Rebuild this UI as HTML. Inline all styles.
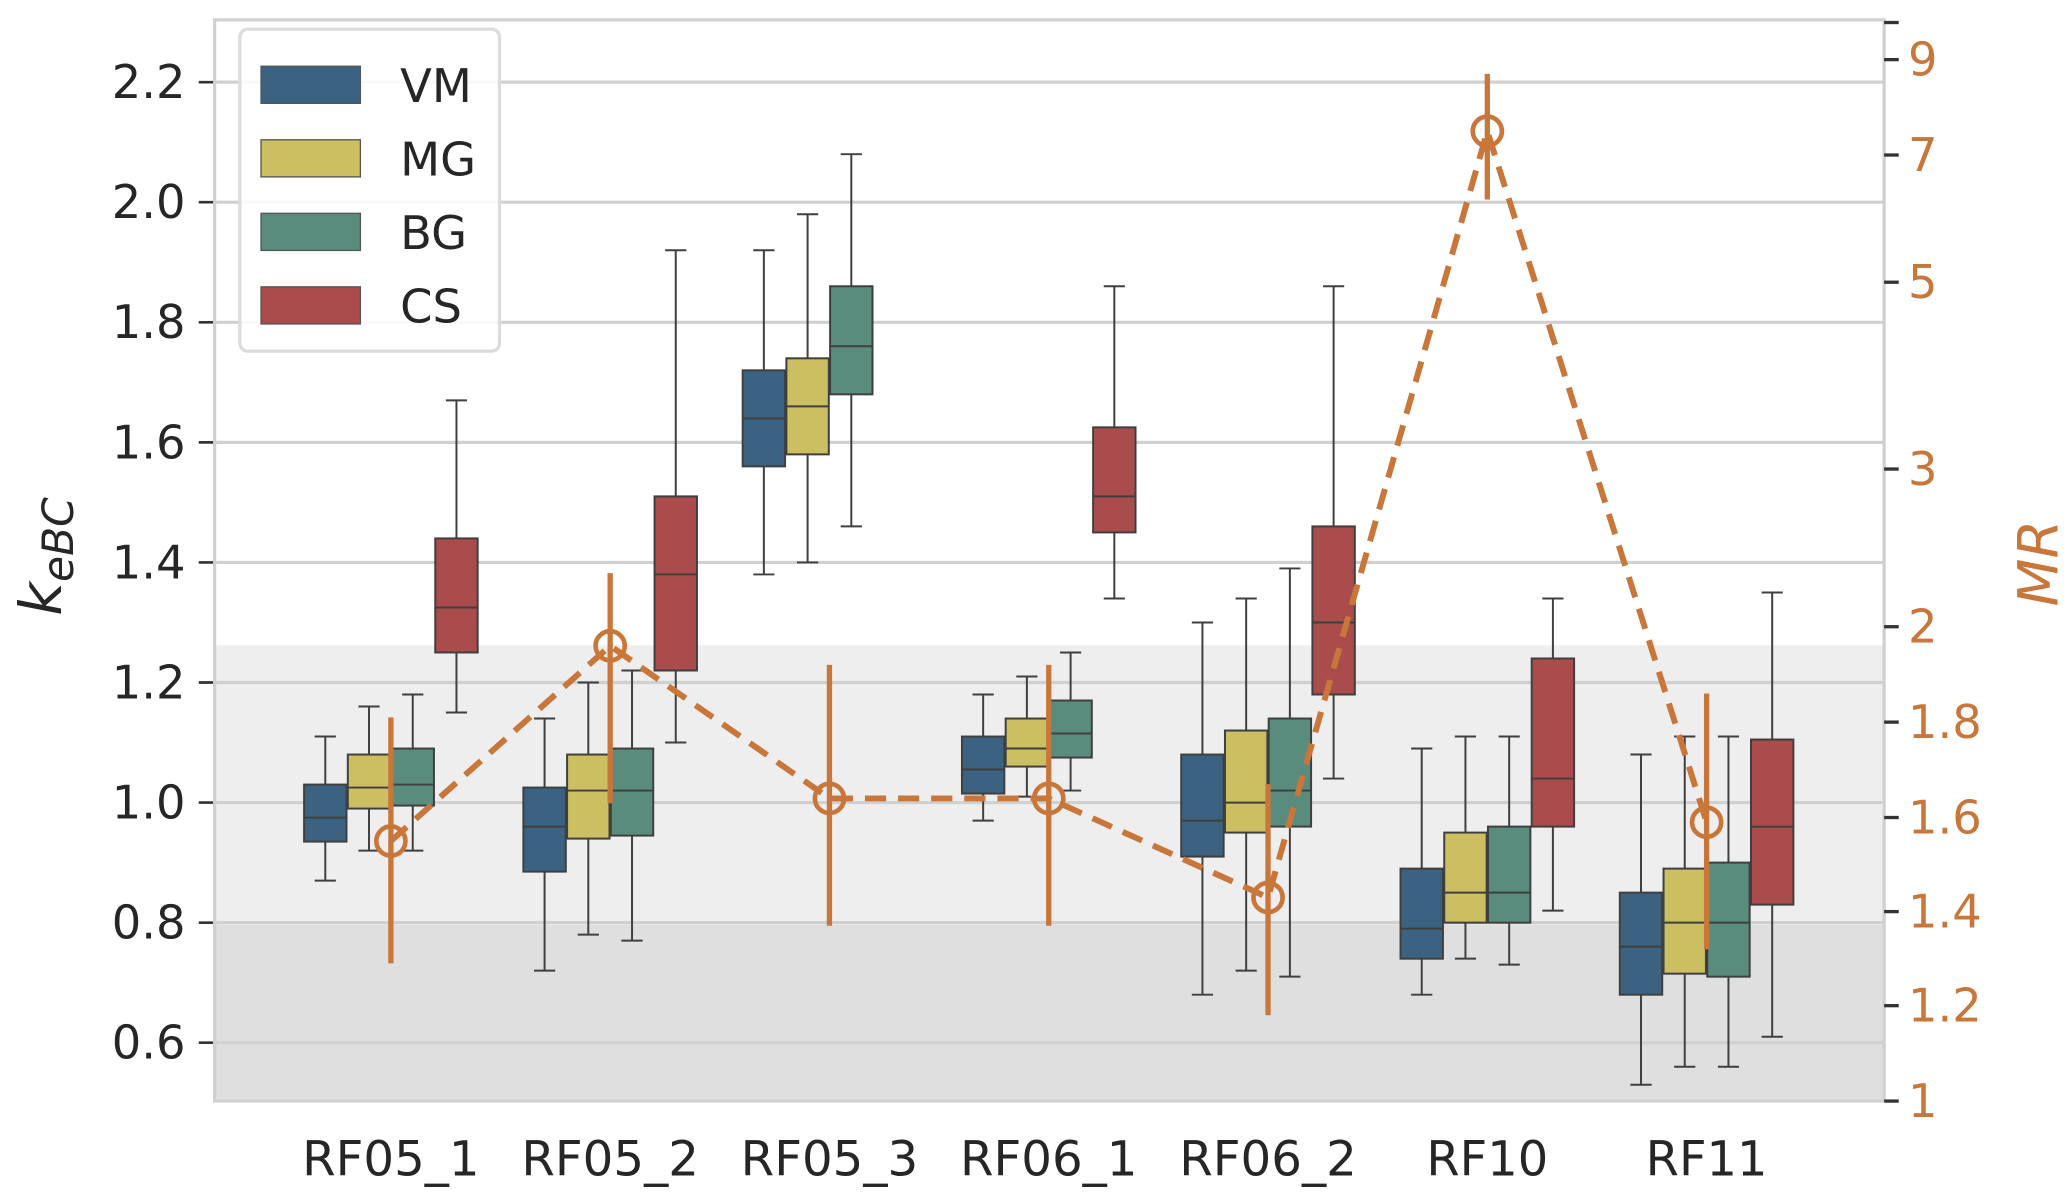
<!DOCTYPE html>
<html><head><meta charset="utf-8"><style>
html,body{margin:0;padding:0;background:#fff;}
svg{display:block;font-family:"DejaVu Sans","Liberation Sans",sans-serif;}
</style></head><body>
<svg id="chart" width="2067" height="1197" viewBox="0 0 1560 903.4" xmlns="http://www.w3.org/2000/svg">
<g id="bands"></g><g id="grid"></g><g id="boxes"></g><g id="mr"></g><g id="axes"></g><g id="legend"></g>
</svg>
<script>
const categories = ["RF05_1","RF05_2","RF05_3","RF06_1","RF06_2","RF10","RF11"];
const groups = ["VM","MG","BG","CS"];
const colors = ["#3b6381","#cbbf62","#5a8c7e","#ab4c4c"];
// [whiskerLow, q1, median, q3, whiskerHigh] per category per group (null = no box)
const vmStats = [[0.87,0.935,0.975,1.03,1.11],[0.72,0.885,0.96,1.025,1.14],[1.38,1.56,1.64,1.72,1.92],[0.97,1.015,1.055,1.11,1.18],[0.68,0.91,0.97,1.08,1.30],[0.68,0.74,0.79,0.89,1.09],[0.53,0.68,0.76,0.85,1.08]];
const mgStats = [[0.92,0.99,1.025,1.08,1.16],[0.78,0.94,1.02,1.08,1.20],[1.40,1.58,1.66,1.74,1.98],[1.01,1.06,1.09,1.14,1.21],[0.72,0.95,1.00,1.12,1.34],[0.74,0.80,0.85,0.95,1.11],[0.56,0.715,0.80,0.89,1.11]];
const bgStats = [[0.92,0.995,1.03,1.09,1.18],[0.77,0.945,1.02,1.09,1.22],[1.46,1.68,1.76,1.86,2.08],[1.02,1.075,1.115,1.17,1.25],[0.71,0.96,1.02,1.14,1.39],[0.73,0.80,0.85,0.96,1.11],[0.56,0.71,0.80,0.90,1.11]];
const csStats = [[1.15,1.25,1.325,1.44,1.67],[1.10,1.22,1.38,1.51,1.92],null,[1.34,1.45,1.51,1.625,1.86],[1.04,1.18,1.30,1.46,1.86],[0.82,0.96,1.04,1.24,1.34],[0.61,0.83,0.96,1.105,1.35]];
const mrValues = [1.55,1.96,1.64,1.64,1.43,7.5,1.59];
const mrLow = [1.29,1.63,1.37,1.37,1.18,6.3,1.32];
const mrHigh = [1.81,2.34,1.92,1.92,1.67,8.7,1.86];
const leftTicks = [0.6,0.8,1.0,1.2,1.4,1.6,1.8,2.0,2.2];
const rightTickLabels = ["1","1.2","1.4","1.6","1.8","2","3","5","7","9"];
const rightTickVals = [1,1.2,1.4,1.6,1.8,2,3,5,7,9];
const rightTickPix = [831,759,688,617,545,473,354,213,117,45];

const NS="http://www.w3.org/2000/svg";
const L=162,R=1422,T=15,B=831;
function y(v){return 62+(2.2-v)*453.1;}
function yr(v){for(let i=0;i<rightTickVals.length-1;i++){const a=rightTickVals[i],b=rightTickVals[i+1];if(v<=b||i===rightTickVals.length-2){return rightTickPix[i]+(v-a)/(b-a)*(rightTickPix[i+1]-rightTickPix[i]);}}}
function xc(i){return 295+165.5*i;}
const bw=33;
function el(tag,attrs,parent,text){const e=document.createElementNS(NS,tag);for(const k in attrs)e.setAttribute(k,attrs[k]);if(text!==undefined)e.textContent=text;parent.appendChild(e);return e;}
const bands=document.getElementById('bands'),grid=document.getElementById('grid'),boxes=document.getElementById('boxes'),mr=document.getElementById('mr'),axes=document.getElementById('axes'),legend=document.getElementById('legend');

let e=el('rect',{x:L,y:y(1.262),width:R-L,height:y(0.796)-y(1.262),fill:'#eeeeee'},bands);


e=el('rect',{x:L,y:y(0.796),width:R-L,height:B-y(0.796),fill:'#dfdfdf'},bands);



leftTicks.forEach(v=>{
  let g=el('line',{x1:L,x2:R,y1:y(v),y2:y(v),stroke:'#d0d0d0','stroke-width':2.4},grid);
  
  
  let t=el('line',{x1:L-12,x2:L,y1:y(v),y2:y(v),stroke:'#333','stroke-width':2},axes);
  
  
  let lb=el('text',{x:L-22,y:y(v)+12,'text-anchor':'end','font-size':35,fill:'#262626'},axes,v.toFixed(1));
  
  
});
e=el('rect',{x:L,y:T,width:R-L,height:B-T,fill:'none',stroke:'#d0d0d0','stroke-width':2.4},axes);



const allStats=[vmStats,mgStats,bgStats,csStats];
categories.forEach((c,i)=>{
  allStats.forEach((st,g)=>{
    const s=st[i]; if(!s) return;
    const cx=xc(i)+(g-1.5)*bw;
    const grp=el('g',{},boxes);
    
    
    el('line',{x1:cx,x2:cx,y1:y(s[0]),y2:y(s[1]),stroke:'#3f3f3f','stroke-width':1.5},grp);
    el('line',{x1:cx,x2:cx,y1:y(s[3]),y2:y(s[4]),stroke:'#3f3f3f','stroke-width':1.5},grp);
    el('line',{x1:cx-8,x2:cx+8,y1:y(s[0]),y2:y(s[0]),stroke:'#3f3f3f','stroke-width':1.5},grp);
    el('line',{x1:cx-8,x2:cx+8,y1:y(s[4]),y2:y(s[4]),stroke:'#3f3f3f','stroke-width':1.5},grp);
    el('rect',{x:cx-bw/2+0.5,y:y(s[3]),width:bw-1,height:y(s[1])-y(s[3]),fill:colors[g],stroke:'#3f3f3f','stroke-width':1.5},grp);
    el('line',{x1:cx-bw/2+0.5,x2:cx+bw/2-0.5,y1:y(s[2]),y2:y(s[2]),stroke:'#3f3f3f','stroke-width':1.5},grp);
  });
  let t=el('text',{x:xc(i),y:887,'text-anchor':'middle','font-size':36,fill:'#262626',textLength:134,lengthAdjust:'spacingAndGlyphs'},axes,c);
  if(c.length<6) t.setAttribute('textLength',92);
  
  
});

const orange='#c8763a';
categories.forEach((c,i)=>{
  let eb=el('line',{x1:xc(i),x2:xc(i),y1:yr(mrLow[i]),y2:yr(mrHigh[i]),stroke:orange,'stroke-width':4},mr);
  
  
});
let pts=mrValues.map((v,i)=>xc(i)+','+yr(v)).join(' ');
e=el('polyline',{points:pts,fill:'none',stroke:orange,'stroke-width':4.5,'stroke-dasharray':'16,9'},mr);


mrValues.forEach((v,i)=>{
  let m=el('circle',{cx:xc(i),cy:yr(v),r:11,fill:'none',stroke:orange,'stroke-width':3.5},mr);
  
  
});
rightTickVals.forEach((v,i)=>{
  let t=el('line',{x1:R,x2:R+11,y1:yr(v),y2:yr(v),stroke:'#333','stroke-width':2.5},axes);
  
  
  let lb=el('text',{x:R+18,y:yr(v)+12,'font-size':35,fill:orange},axes,rightTickLabels[i]);
  
  
});
e=el('line',{x1:R,x2:R+11,y1:17,y2:17,stroke:'#333','stroke-width':2.5},axes);



e=el('text',{transform:'translate(46,420) rotate(-90)','text-anchor':'middle','font-size':44,fill:'#262626','font-style':'italic'},axes);


e.innerHTML='k<tspan font-size="32" dy="9">eBC</tspan>';
e=el('text',{transform:'translate(1553,425) rotate(-90)','text-anchor':'middle','font-size':42,fill:orange,'font-style':'italic'},axes,'MR');



e=el('rect',{x:181,y:22,width:196,height:243,rx:6,fill:'rgba(255,255,255,0.85)',stroke:'#dcdcdc','stroke-width':2.5},legend);


groups.forEach((g,k)=>{
  const gy=50+k*55.5;
  let p=el('rect',{x:197,y:gy,width:75,height:28,fill:colors[k],stroke:'#555','stroke-width':1},legend);
  
  
  let t=el('text',{x:302,y:gy+27,'font-size':35,fill:'#262626'},legend,g);
  
  
});
</script>
</body></html>
